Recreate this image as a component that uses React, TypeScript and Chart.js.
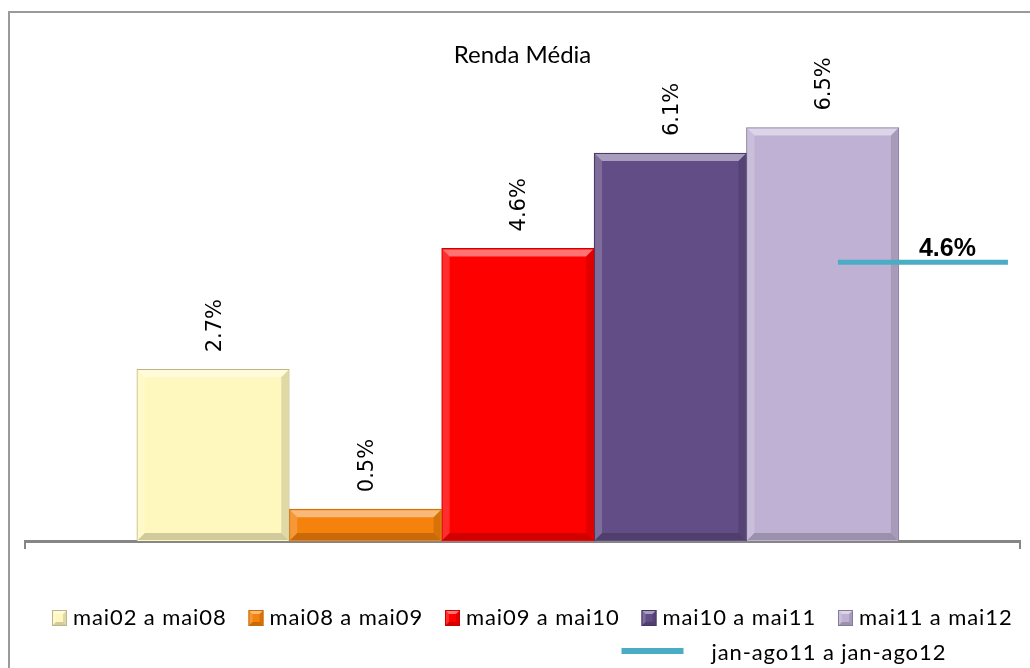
import React, { useEffect, useRef } from 'react';
import { Chart, registerables } from 'chart.js';

Chart.register(...registerables);

const chartTitle = 'Renda Média';
const seriesLabels = ['mai02 a mai08', 'mai08 a mai09', 'mai09 a mai10', 'mai10 a mai11', 'mai11 a mai12'];
const seriesValues = [2.7, 0.5, 4.6, 6.1, 6.5];
const lineLabel = 'jan-ago11 a jan-ago12';
const lineValue = 4.6;
const linePeriod = [0, 1];

const barFills = ['#FFF8BE', '#F5820C', '#FF0000', '#624D86', '#BFB1D3'];
const barBorders = ['#BFB48A', '#C86A0A', '#CC0000', '#44365E', '#867A9C'];
const lineColor = '#4BACC6';

const fmt = (v: number) => v.toFixed(1) + '%';

function bevel(ctx: CanvasRenderingContext2D, l: number, t: number, r: number, b: number, d: number) {
  const poly = (pts: number[][], style: string) => {
    ctx.beginPath();
    ctx.moveTo(pts[0][0], pts[0][1]);
    for (let i = 1; i < pts.length; i++) ctx.lineTo(pts[i][0], pts[i][1]);
    ctx.closePath();
    ctx.fillStyle = style;
    ctx.fill();
  };
  poly([[l, t], [r, t], [r - d, t + d], [l + d, t + d]], 'rgba(255,255,255,0.45)');
  poly([[l, t], [l + d, t + d], [l + d, b - d], [l, b]], 'rgba(255,255,255,0.18)');
  poly([[r, t], [r, b], [r - d, b - d], [r - d, t + d]], 'rgba(0,0,0,0.12)');
  poly([[l, b], [r, b], [r - d, b - d], [l + d, b - d]], 'rgba(0,0,0,0.18)');
}

const decorPlugin = {
  id: 'decor',
  beforeDraw(chart: any) {
    const ctx = chart.ctx as CanvasRenderingContext2D;
    ctx.save();
    ctx.fillStyle = '#ffffff';
    ctx.fillRect(0, 0, chart.width, chart.height);
    ctx.strokeStyle = '#9a9a9a';
    ctx.lineWidth = 2;
    ctx.strokeRect(9, 12, chart.width + 50, chart.height + 50);
    ctx.restore();
  },
  afterDatasetDraw(chart: any, args: any) {
    const meta = args.meta;
    if (meta.type !== 'bar') return;
    const ctx = chart.ctx as CanvasRenderingContext2D;
    ctx.save();
    meta.data.forEach((el: any) => {
      const l = el.x - el.width / 2;
      const r = el.x + el.width / 2;
      const t = Math.min(el.y, el.base);
      const b = Math.max(el.y, el.base);
      const d = Math.min(7, (b - t) / 3);
      bevel(ctx, l + 1, t + 1, r - 1, b - 1, d);
    });
    ctx.restore();
  },
  afterDatasetsDraw(chart: any) {
    const ctx = chart.ctx as CanvasRenderingContext2D;
    ctx.save();
    chart.data.datasets.forEach((ds: any, i: number) => {
      const meta = chart.getDatasetMeta(i);
      if (meta.type !== 'bar') return;
      meta.data.forEach((el: any, j: number) => {
        const v = ds.data[j].y;
        ctx.save();
        ctx.translate(el.x + 2, el.y - 17);
        ctx.rotate(-Math.PI / 2);
        ctx.font = '21px "DejaVu Sans"';
        ctx.fillStyle = '#000';
        ctx.textAlign = 'left';
        ctx.textBaseline = 'middle';
        ctx.fillText(fmt(v), 0, 0);
        ctx.restore();
      });
    });
    chart.data.datasets.forEach((ds: any, i: number) => {
      const meta = chart.getDatasetMeta(i);
      if (meta.type !== 'line') return;
      const end = meta.data[meta.data.length - 1];
      ctx.font = 'bold 25px "Liberation Sans"';
      ctx.fillStyle = '#000';
      ctx.textAlign = 'right';
      ctx.textBaseline = 'alphabetic';
      ctx.fillText(fmt(ds.data[ds.data.length - 1].y), end.x - 32, end.y - 6);
    });
    ctx.restore();
  },
  afterDraw(chart: any) {
    const ctx = chart.ctx as CanvasRenderingContext2D;
    const area = chart.chartArea;
    ctx.save();
    ctx.font = '22px Lato';
    (ctx as any).letterSpacing = '0.9px';
    ctx.fillStyle = '#000';
    ctx.textBaseline = 'alphabetic';
    ctx.textAlign = 'left';
    const rowY = 625;
    const pitch = 196.5;
    const iconStarts: number[] = [];
    let k = 0;
    chart.data.datasets.forEach((ds: any, i: number) => {
      const meta = chart.getDatasetMeta(i);
      if (meta.type !== 'bar') return;
      const x = area.left + 27 + k * pitch;
      k++;
      iconStarts.push(x);
      ctx.fillStyle = ds.backgroundColor;
      ctx.fillRect(x, rowY - 15, 15, 16);
      ctx.strokeStyle = ds.borderColor;
      ctx.lineWidth = 1;
      ctx.strokeRect(x + 0.5, rowY - 14.5, 14, 15);
      bevel(ctx, x + 1, rowY - 14, x + 14, rowY, 3);
      ctx.fillStyle = '#000';
      ctx.fillText(ds.label, x + 21, rowY);
    });
    chart.data.datasets.forEach((ds: any, i: number) => {
      const meta = chart.getDatasetMeta(i);
      if (meta.type !== 'line') return;
      const lx = (iconStarts[3] ?? 640) - 20;
      const ly = 660;
      ctx.strokeStyle = ds.borderColor;
      ctx.lineWidth = 6;
      ctx.beginPath();
      ctx.moveTo(lx, ly - 9);
      ctx.lineTo(lx + 62, ly - 9);
      ctx.stroke();
      ctx.fillStyle = '#000';
      ctx.fillText(ds.label, lx + 90, ly);
    });
    ctx.restore();
  },
};

export default function App() {
  const ref = useRef<HTMLCanvasElement | null>(null);
  useEffect(() => {
    if (!ref.current) return;
    const unitWidth = (c: any) => {
      const s = c.chart.scales.x;
      return s ? Math.abs(s.getPixelForValue(1) - s.getPixelForValue(0)) : 100;
    };
    const datasets: any[] = seriesLabels.map((label, i) => ({
      type: 'bar',
      label,
      data: [{ x: i, y: seriesValues[i] }],
      backgroundColor: barFills[i],
      borderColor: barBorders[i],
      borderWidth: 1,
      grouped: false,
      barThickness: unitWidth,
      xAxisID: 'x',
      yAxisID: 'y',
      order: 1,
    }));
    datasets.push({
      type: 'line',
      label: lineLabel,
      data: linePeriod.map((p) => ({ x: p, y: lineValue })),
      borderColor: lineColor,
      backgroundColor: lineColor,
      borderWidth: 5,
      pointRadius: 0,
      xAxisID: 'x2',
      yAxisID: 'y2',
      order: 0,
    });
    const chart = new Chart(ref.current, {
      type: 'bar',
      data: { datasets },
      options: {
        animation: false,
        responsive: false,
        devicePixelRatio: 1,
        layout: { padding: { top: 0, left: 25, right: 10, bottom: 119 } },
        plugins: {
          legend: { display: false },
          tooltip: { enabled: false },
          title: {
            display: true,
            text: chartTitle,
            color: '#000',
            font: { family: 'Lato', size: 24, weight: 'normal' },
            padding: { top: 41, bottom: 26 },
          },
        },
        scales: {
          x: {
            type: 'linear',
            offset: false,
            min: -1.234,
            max: 5.295,
            afterBuildTicks: (s: any) => {
              s.ticks = [{ value: s.min }, { value: s.max }];
            },
            ticks: { display: false },
            grid: { display: true, drawOnChartArea: false, drawTicks: true, tickLength: 8, color: '#868686', lineWidth: 2, offset: false },
            border: { display: true, color: '#868686', width: 3 },
          },
          y: { display: false, min: 0, max: 7 },
          x2: { type: 'linear', display: false, offset: false, min: -4.782, max: 1.071 },
          y2: { type: 'linear', display: false, min: 0, max: 7.35 },
        },
      } as any,
      plugins: [decorPlugin],
    });
    return () => chart.destroy();
  }, []);
  return (
    <div style={{ position: 'fixed', left: 0, top: 0, width: 1030, height: 668, background: '#fff' }}>
      <canvas ref={ref} width={1030} height={668} />
    </div>
  );
}
